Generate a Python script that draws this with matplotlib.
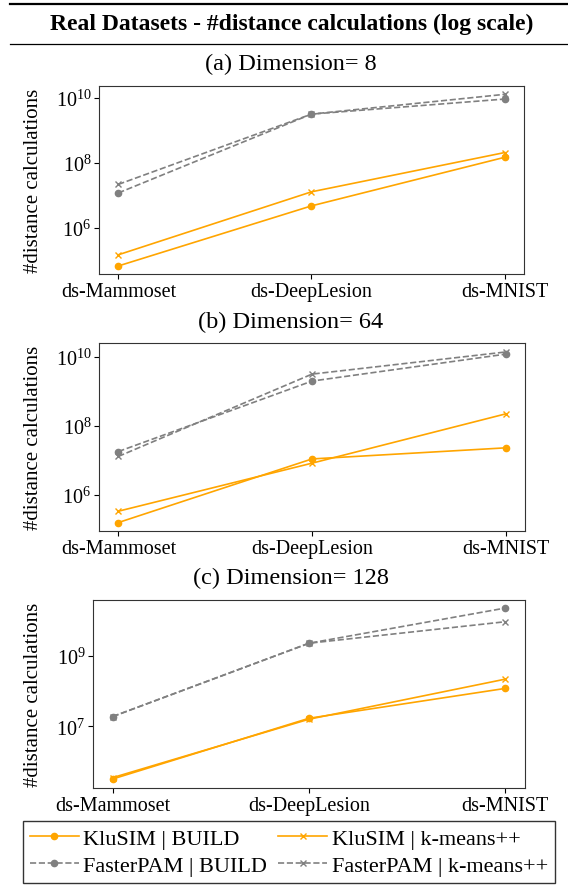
import matplotlib
matplotlib.use('Agg')
import matplotlib.pyplot as plt
from matplotlib.lines import Line2D
from matplotlib.ticker import FixedLocator, NullLocator, LogFormatterSciNotation

plt.rcParams['font.family'] = ['Liberation Serif', 'DejaVu Serif']
plt.rcParams['mathtext.fontset'] = 'stix'

datasets = ['ds-Mammoset', 'ds-DeepLesion', 'ds-MNIST']
dims = ['(a) Dimension= 8', '(b) Dimension= 64', '(c) Dimension= 128']

# distance calculations per dimension, order: Mammoset, DeepLesion, MNIST
klusim_build = [[6.8e4, 4.8e6, 1.5e8],
                [1.6e5, 1.1e7, 2.3e7],
                [3.2e5, 1.7e7, 1.2e8]]
klusim_kmpp = [[1.5e5, 1.3e7, 2.1e8],
               [3.4e5, 8.3e6, 2.2e8],
               [3.5e5, 1.6e7, 2.2e8]]
fpam_build = [[1.2e7, 3.2e9, 9.3e9],
              [1.8e7, 1.95e9, 1.17e10],
              [1.9e7, 2.3e9, 2.3e10]]
fpam_kmpp = [[2.2e7, 3.2e9, 1.3e10],
             [1.3e7, 3.1e9, 1.35e10],
             [1.9e7, 2.3e9, 9.4e9]]

yticks = [[1e6, 1e8, 1e10], [1e6, 1e8, 1e10], [1e7, 1e9]]
ylims = [(10**4.585, 10**10.37), (10**4.96, 10**10.39), (10**5.25, 10**10.59)]

W, H = 568, 887
fig = plt.figure(figsize=(W / 100, H / 100), dpi=100)

# axes boxes in pixels: left, top, right, bottom
boxes = [(99, 87, 524, 275), (99, 344, 525, 532), (93, 601, 525, 789)]
title_y = [64, 322, 578]

x = list(range(len(datasets)))
for i in range(3):
    l, t, r, b = boxes[i]
    ax = fig.add_axes([l / W, 1 - b / H, (r - l) / W, (b - t) / H])
    ax.plot(x, klusim_build[i], color='orange', marker='o', ms=4.5, lw=1.2,
            label='KluSIM | BUILD')
    ax.plot(x, klusim_kmpp[i], color='orange', marker='x', ms=5, lw=1.2,
            label='KluSIM | k-means++')
    ax.plot(x, fpam_build[i], color='gray', ls='--', marker='o', ms=4.5, lw=1.2,
            label='FasterPAM | BUILD')
    ax.plot(x, fpam_kmpp[i], color='gray', ls='--', marker='x', ms=5, lw=1.2,
            label='FasterPAM | k-means++')
    ax.set_yscale('log')
    ax.set_ylim(*ylims[i])
    ax.yaxis.set_major_locator(FixedLocator(yticks[i]))
    ax.yaxis.set_major_formatter(LogFormatterSciNotation())
    ax.yaxis.set_minor_locator(NullLocator())
    ax.set_xticks(x)
    ax.set_xticklabels(datasets)
    ax.tick_params(labelsize=14.5, pad=2)
    for s in ax.spines.values():
        s.set_color('0.2')
    ax.set_ylabel('#distance calculations', fontsize=15)
    ax.yaxis.set_label_coords(43 / W, 1 - (t + b) / 2 / H, transform=fig.transFigure)
    fig.text(291 / W, 1 - title_y[i] / H, dims[i], fontsize=17.5, ha='center', va='center')
    if i == 0:
        handles, labels = ax.get_legend_handles_labels()

# header with rules
fig.text(292 / W, 1 - 24 / H, 'Real Datasets - #distance calculations (log scale)',
         fontsize=17, weight='bold', ha='center', va='center')
fig.add_artist(Line2D([10 / W, 1], [1 - 5 / H, 1 - 5 / H], color='black', lw=1.6,
                      transform=fig.transFigure))
fig.add_artist(Line2D([10 / W, 1], [1 - 45 / H, 1 - 45 / H], color='black', lw=0.9,
                      transform=fig.transFigure))

# row-wise legend order
order = [0, 2, 1, 3]
leg = fig.legend([handles[k] for k in order], [labels[k] for k in order], ncol=2,
                 loc='center', bbox_to_anchor=(289 / W, 1 - 853 / H),
                 fontsize=16, frameon=True, fancybox=False, edgecolor='black',
                 handlelength=2.2, handletextpad=0.2, columnspacing=0.5,
                 borderpad=0.3, labelspacing=0.3, borderaxespad=0)
leg.get_frame().set_linewidth(1.0)

fig.savefig('out.png', dpi=100)
